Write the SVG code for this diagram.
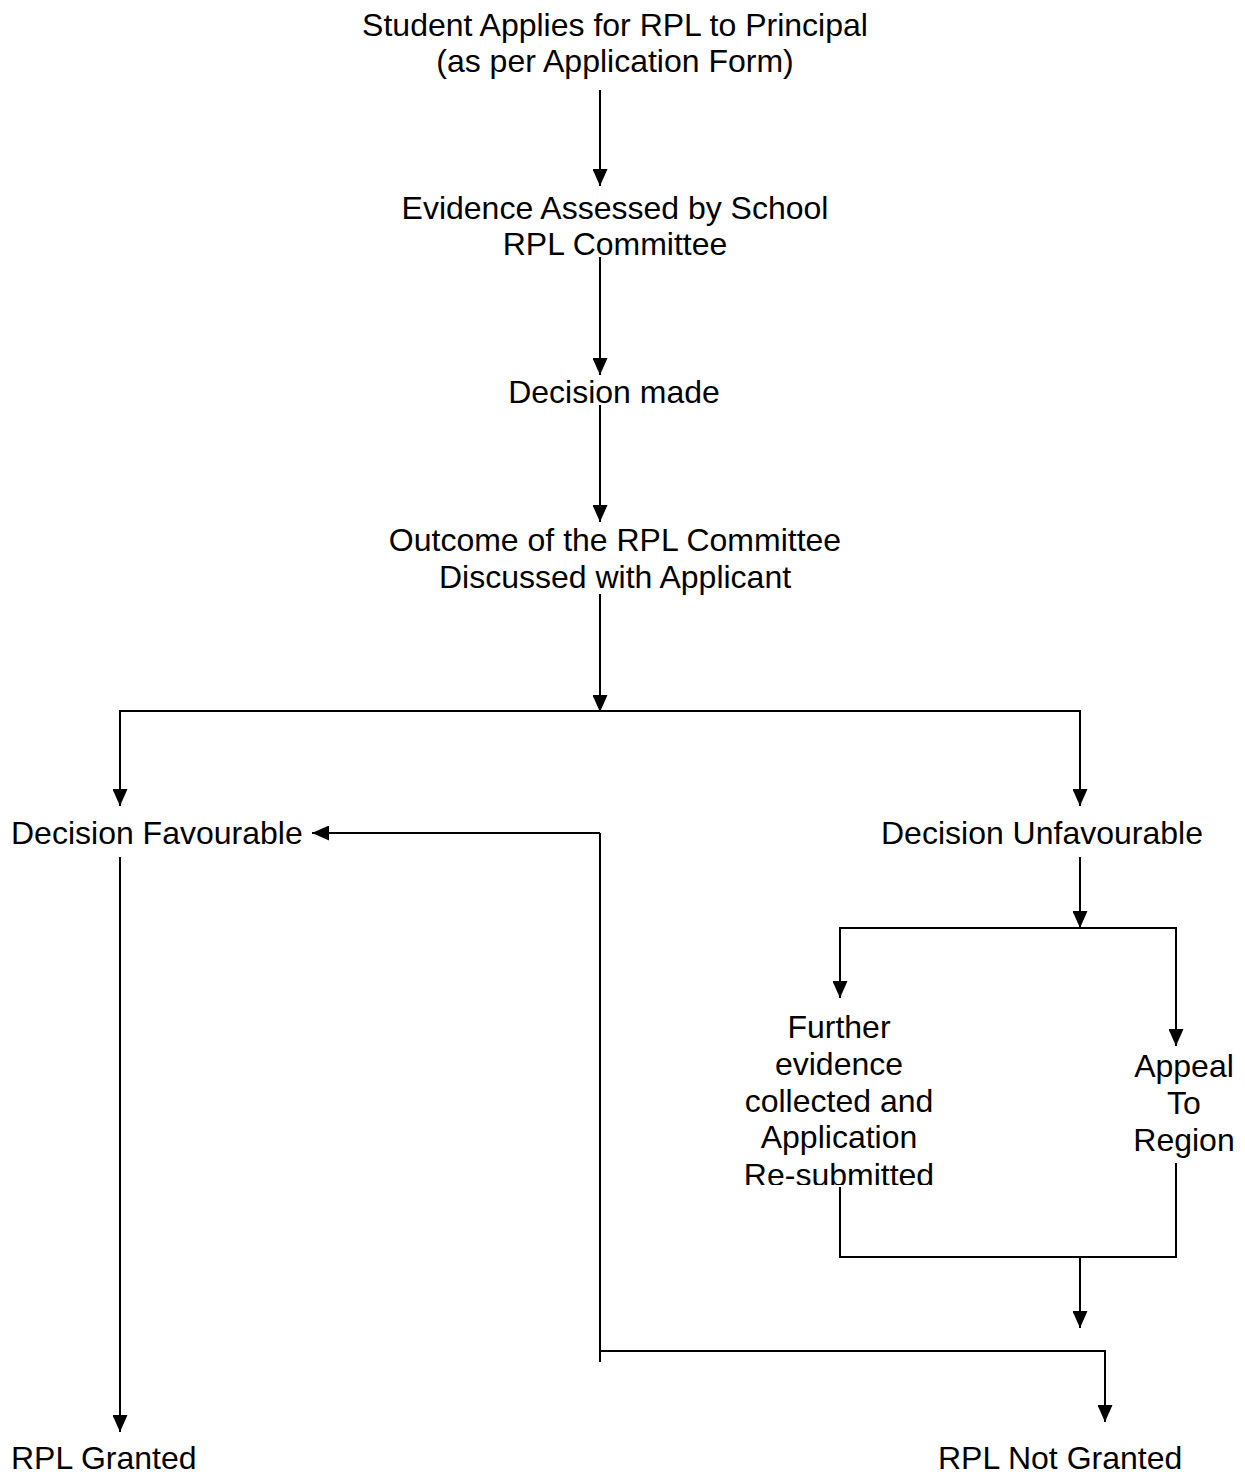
<svg xmlns="http://www.w3.org/2000/svg" width="1245" height="1475" viewBox="0 0 1245 1475">
<style>
text { font-family: "Liberation Sans", Arial, sans-serif; font-size: 32px; fill: #000; }
.c { text-anchor: middle; }
.ln { stroke: #000; stroke-width: 2; fill: none; }
.ar { marker-end: url(#ah); }
</style>
<defs>
<marker id="ah" markerUnits="userSpaceOnUse" markerWidth="17" markerHeight="15" refX="17" refY="7.5" orient="auto">
<path d="M0,0 L17,7.5 L0,15 Z" fill="#000"/>
</marker>
<clipPath id="clipFurther"><rect x="700" y="990" width="280" height="195"/></clipPath>
</defs>
<rect width="1245" height="1475" fill="#fff"/>
<g id="connectors">
<line class="ln ar" x1="600" y1="90" x2="600" y2="186"/>
<line class="ln ar" x1="600" y1="257" x2="600" y2="375"/>
<line class="ln ar" x1="600" y1="405" x2="600" y2="522"/>
<line class="ln ar" x1="600" y1="594" x2="600" y2="712"/>
<polyline class="ln ar" points="600,711 120,711 120,806"/>
<polyline class="ln ar" points="600,711 1080,711 1080,806"/>
<line class="ln ar" x1="1080" y1="857" x2="1080" y2="928"/>
<polyline class="ln ar" points="1080,928 840,928 840,998"/>
<polyline class="ln ar" points="1080,928 1176,928 1176,1046"/>
<polyline class="ln" points="840,1187 840,1257 1176,1257 1176,1163"/>
<line class="ln ar" x1="1080" y1="1257" x2="1080" y2="1328"/>
<line class="ln" x1="600" y1="1362" x2="600" y2="833"/>
<line class="ln ar" x1="600" y1="833" x2="312" y2="833"/>
<polyline class="ln ar" points="600,1351 1105,1351 1105,1422"/>
<line class="ln ar" x1="120" y1="857" x2="120" y2="1432"/>
</g>
<g id="n-apply"><text class="c" x="615" y="36">Student Applies for RPL to Principal</text><text class="c" x="615" y="72">(as per Application Form)</text></g>
<g id="n-assess"><text class="c" x="615" y="219">Evidence Assessed by School</text><text class="c" x="615" y="255">RPL Committee</text></g>
<g id="n-decision"><text class="c" x="614" y="403">Decision made</text></g>
<g id="n-outcome"><text class="c" x="615" y="551">Outcome of the RPL Committee</text><text class="c" x="615" y="588">Discussed with Applicant</text></g>
<g id="n-fav"><text x="11" y="844">Decision Favourable</text></g>
<g id="n-unfav"><text x="881" y="844">Decision Unfavourable</text></g>
<g id="n-further" clip-path="url(#clipFurther)"><text class="c" x="839" y="1038">Further</text><text class="c" x="839" y="1075">evidence</text><text class="c" x="839" y="1112">collected and</text><text class="c" x="839" y="1148">Application</text><text class="c" x="839" y="1186">Re-submitted</text></g>
<g id="n-appeal"><text class="c" x="1184" y="1077">Appeal</text><text class="c" x="1184" y="1114">To</text><text class="c" x="1184" y="1151">Region</text></g>
<g id="n-granted"><text x="11" y="1469">RPL Granted</text></g>
<g id="n-notgranted"><text x="938" y="1469">RPL Not Granted</text></g>
</svg>
